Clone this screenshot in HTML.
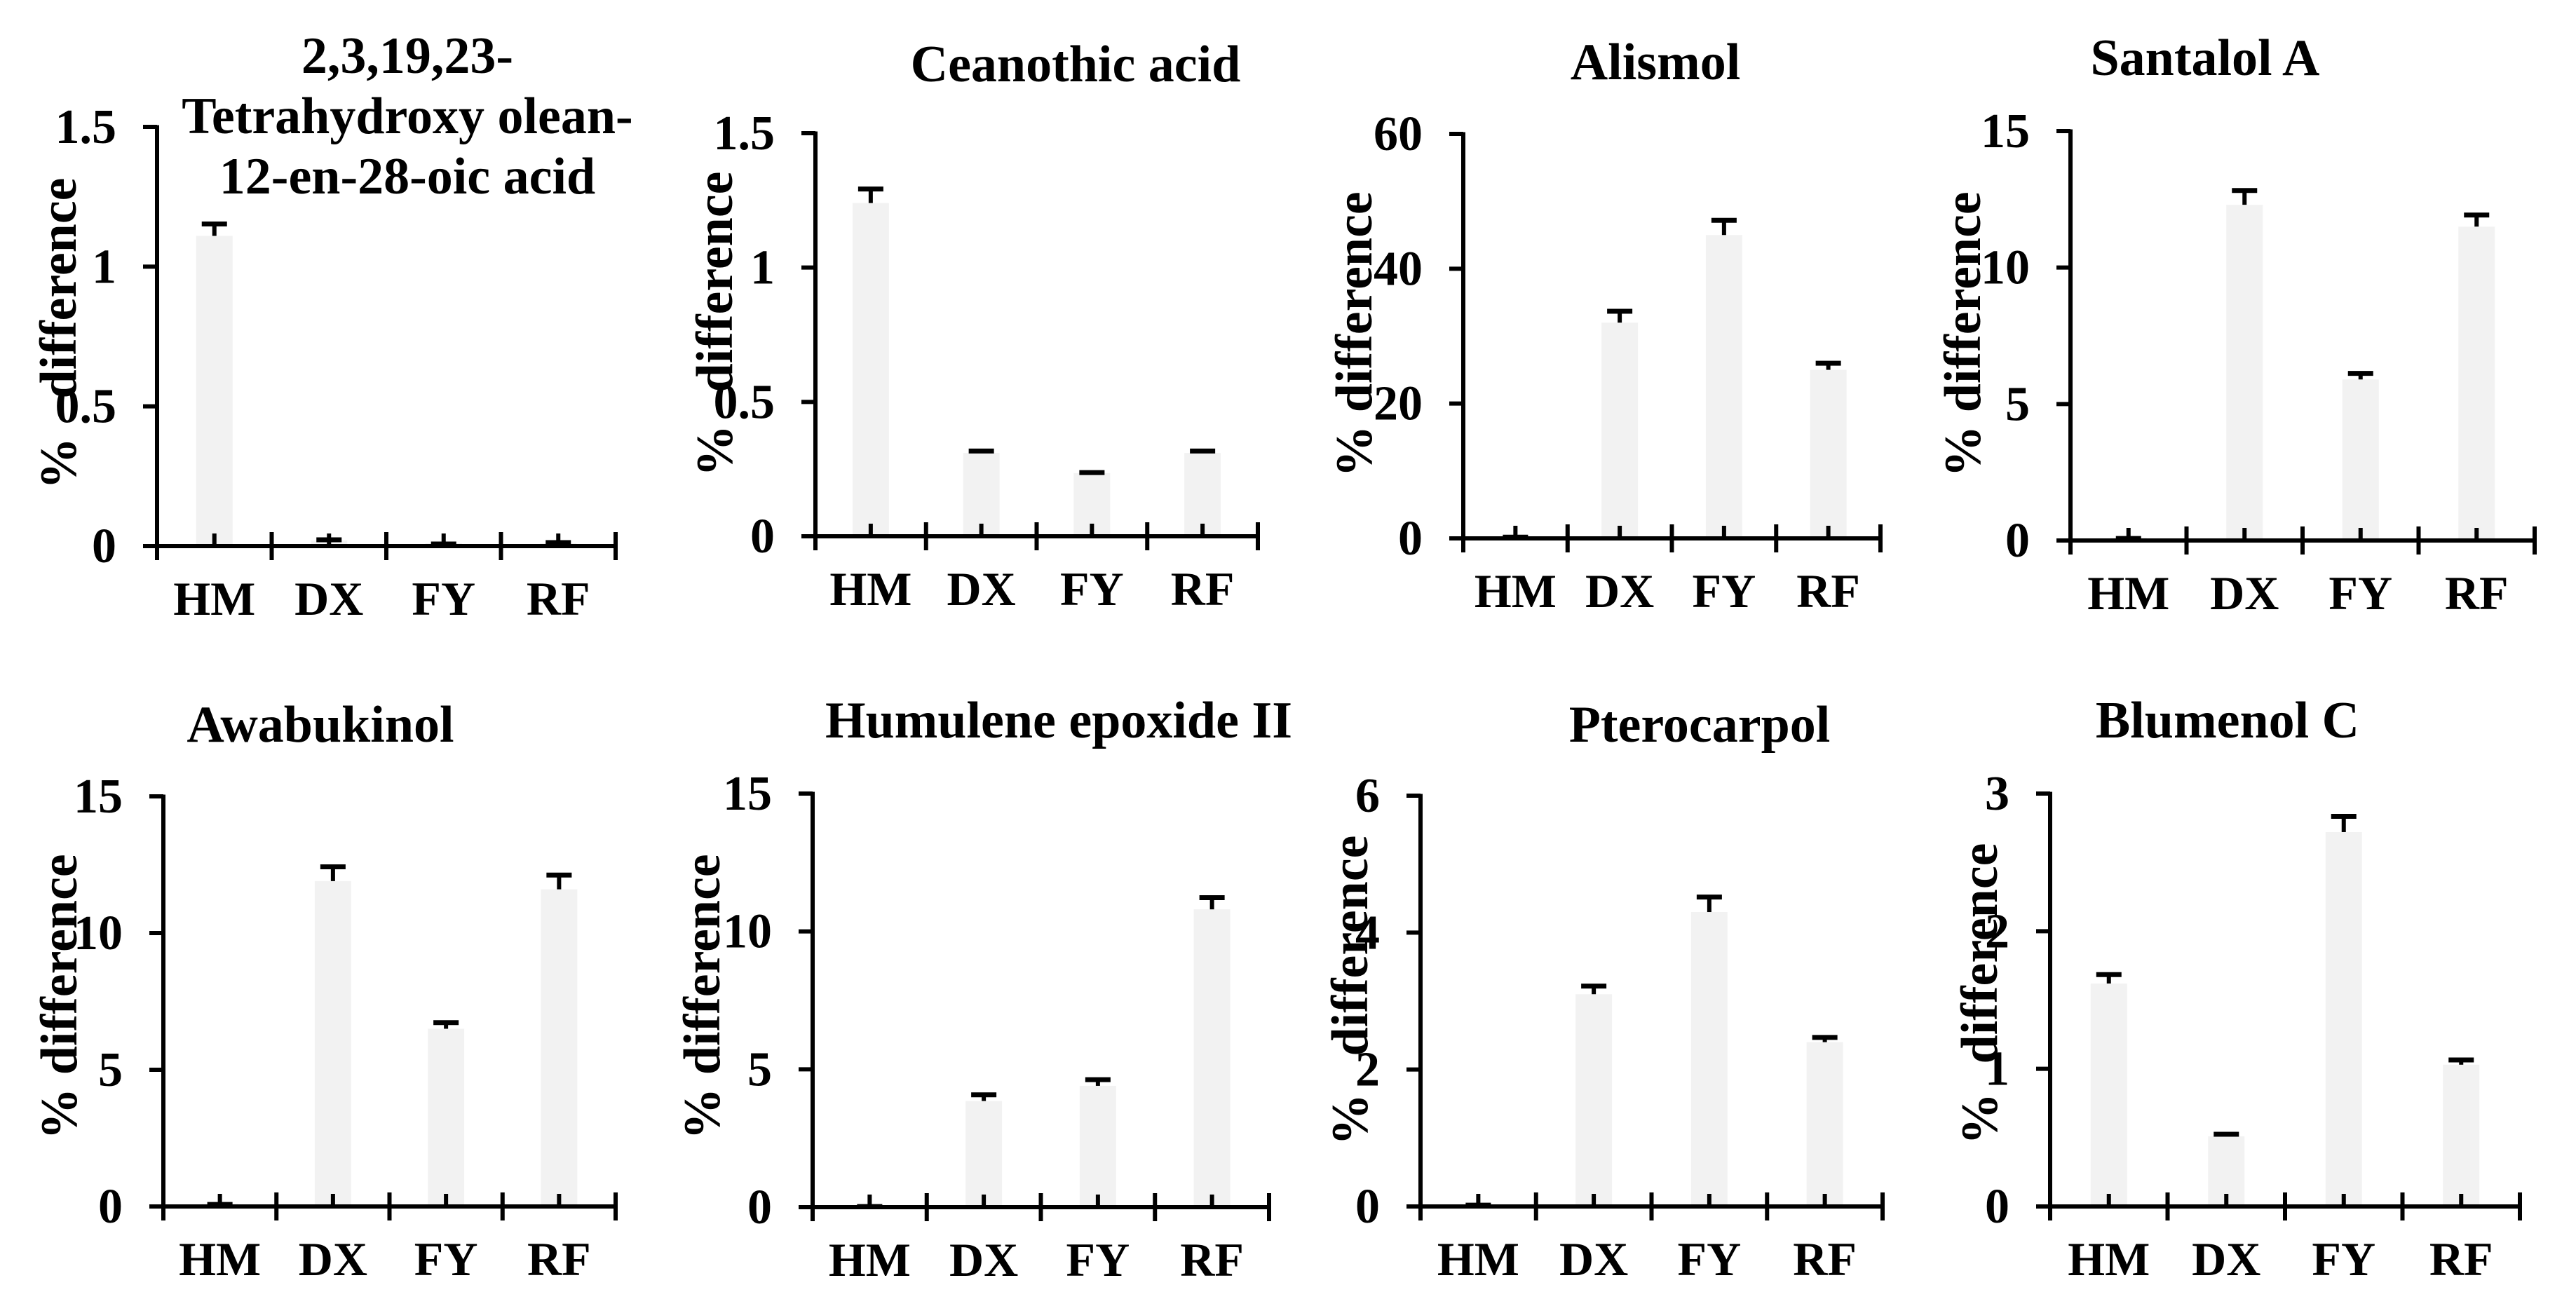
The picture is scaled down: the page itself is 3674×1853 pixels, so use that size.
<!DOCTYPE html>
<html><head><meta charset="utf-8"><style>
html,body{margin:0;padding:0;background:#fff;}
svg{display:block;}
text{font-family:"Liberation Serif",serif;font-weight:bold;fill:#000;}
</style></head><body>
<svg id="chart" width="3674" height="1853" viewBox="0 0 3674 1853" xmlns="http://www.w3.org/2000/svg"></svg>
<script>
const categories = ["HM","DX","FY","RF"];
const titles = [["2,3,19,23-","Tetrahydroxy olean-","12-en-28-oic acid"],["Ceanothic acid"],["Alismol"],["Santalol A"],["Awabukinol"],["Humulene epoxide II"],["Pterocarpol"],["Blumenol C"]];
const means = [
  [1.11,0.02,0.01,0.01],
  [1.24,0.31,0.235,0.31],
  [0.3,32,45,25],
  [0.1,12.3,5.9,11.5],
  [0.1,11.9,6.5,11.6],
  [0.05,3.85,4.4,10.8],
  [0.02,3.1,4.3,2.4],
  [1.62,0.51,2.72,1.03]
];
const errTops = [
  [1.16,0.03,0.015,0.02],
  [1.30,0.325,0.245,0.325],
  [0.5,34,47.5,26.3],
  [0.15,12.9,6.2,12.0],
  [0.15,12.5,6.8,12.2],
  [0.1,4.15,4.7,11.3],
  [0.05,3.25,4.55,2.5],
  [1.70,0.54,2.85,1.08]
];
const yMax = [1.5,1.5,60,15,15,15,6,3];
const tickLabels = [
  ["0","0.5","1","1.5"],["0","0.5","1","1.5"],["0","20","40","60"],["0","5","10","15"],
  ["0","5","10","15"],["0","5","10","15"],["0","2","4","6"],["0","1","2","3"]
];
const layout = [
  {ax:224,top:181,zero:779,end:878,tx:581,ty:104,lx:108,pc:661,dc:411},
  {ax:1163,top:190,zero:765,end:1794,tx:1534,ty:116,lx:1044,pc:643,dc:402},
  {ax:2087,top:191,zero:768,end:2682,tx:2361,ty:113,lx:1956,c:477},
  {ax:2953,top:187,zero:771,end:3615,tx:3145,ty:107,lx:2824,c:477},
  {ax:233,top:1136,zero:1721,end:878,tx:457,ty:1058,lx:109,c:1422},
  {ax:1159,top:1132,zero:1722,end:1810,tx:1510,ty:1052,lx:1026,c:1422},
  {ax:2026,top:1135,zero:1721,end:2685,tx:2424,ty:1058,lx:1950,pc:1597,dc:1349},
  {ax:2924,top:1132,zero:1721,end:3594,tx:3177,ty:1052,lx:2848,pc:1596,dc:1360}
];
const FS_TITLE=74, FS_TICK=70, FS_CAT=68, FS_YL=74;
const svg = document.getElementById('chart');
const NS = "http://www.w3.org/2000/svg";
function mk(tag, attrs, parent){const e=document.createElementNS(NS,tag);for(const k in attrs)e.setAttribute(k,attrs[k]);parent.appendChild(e);return e;}
for(let p=0;p<8;p++){
  const L=layout[p];
  const g=mk('g',{},svg);
  
  
  const y=v=>L.zero-(v/yMax[p])*(L.zero-L.top);
  const band=(L.end-L.ax)/categories.length;
  const cx=i=>L.ax+band*(i+0.5);
  for(let i=0;i<categories.length;i++){
    const yt=y(means[p][i]);
    const r=mk('rect',{x:cx(i)-26,y:yt,width:52,height:L.zero-yt,fill:'#f2f2f2'},g);
    
    
    const ye=y(errTops[p][i]);
    const eg=mk('g',{},g);
    
    
    mk('line',{x1:cx(i),x2:cx(i),y1:yt,y2:ye,stroke:'#000','stroke-width':6},eg);
    mk('line',{x1:cx(i)-18,x2:cx(i)+18,y1:ye+3,y2:ye+3,stroke:'#000','stroke-width':7},eg);
    mk('line',{x1:cx(i),x2:cx(i),y1:L.zero,y2:L.zero-18,stroke:'#000','stroke-width':6},g);
    const t=mk('text',{x:cx(i),y:L.zero+98,'text-anchor':'middle','font-size':FS_CAT},g);
    t.textContent=categories[i];
    
    
  }
  const ya=mk('line',{x1:L.ax,x2:L.ax,y1:L.top-2.5,y2:L.zero+20,stroke:'#000','stroke-width':6},g);
  
  
  const xa=mk('line',{x1:L.ax-20,x2:L.end+3,y1:L.zero,y2:L.zero,stroke:'#000','stroke-width':6},g);
  
  
  for(let i=1;i<=categories.length;i++){
    const bx=L.ax+band*i;
    mk('line',{x1:bx,x2:bx,y1:L.zero-20,y2:L.zero+20,stroke:'#000','stroke-width':6},g);
  }
  const n=tickLabels[p].length;
  for(let k=0;k<n;k++){
    const v=parseFloat(tickLabels[p][k]);
    const yy=y(v);
    mk('line',{x1:L.ax-20,x2:L.ax,y1:yy,y2:yy,stroke:'#000','stroke-width':6},g);
    const t=mk('text',{x:L.ax-58,y:yy+23,'text-anchor':'end','font-size':FS_TICK},g);
    t.textContent=tickLabels[p][k];
    
    
  }
  const lines=titles[p];
  for(let j=0;j<lines.length;j++){
    const t=mk('text',{x:L.tx,y:L.ty+j*86,'text-anchor':'middle','font-size':FS_TITLE},g);
    t.textContent=lines[j];
    
    
  }
  if(L.c!==undefined){
    const t=mk('text',{x:0,y:0,'text-anchor':'middle','font-size':FS_YL,transform:'translate('+L.lx+','+L.c+') rotate(-90)'},g);
    t.textContent='% difference';
    
    
  } else {
    const t1=mk('text',{x:0,y:0,'text-anchor':'middle','font-size':FS_YL,transform:'translate('+L.lx+','+L.pc+') rotate(-90)'},g);
    t1.textContent='%';
    
    
    const t2=mk('text',{x:0,y:0,'text-anchor':'middle','font-size':FS_YL,transform:'translate('+L.lx+','+L.dc+') rotate(-90)'},g);
    t2.textContent='difference';
    
    
  }
}
</script>
</body></html>
